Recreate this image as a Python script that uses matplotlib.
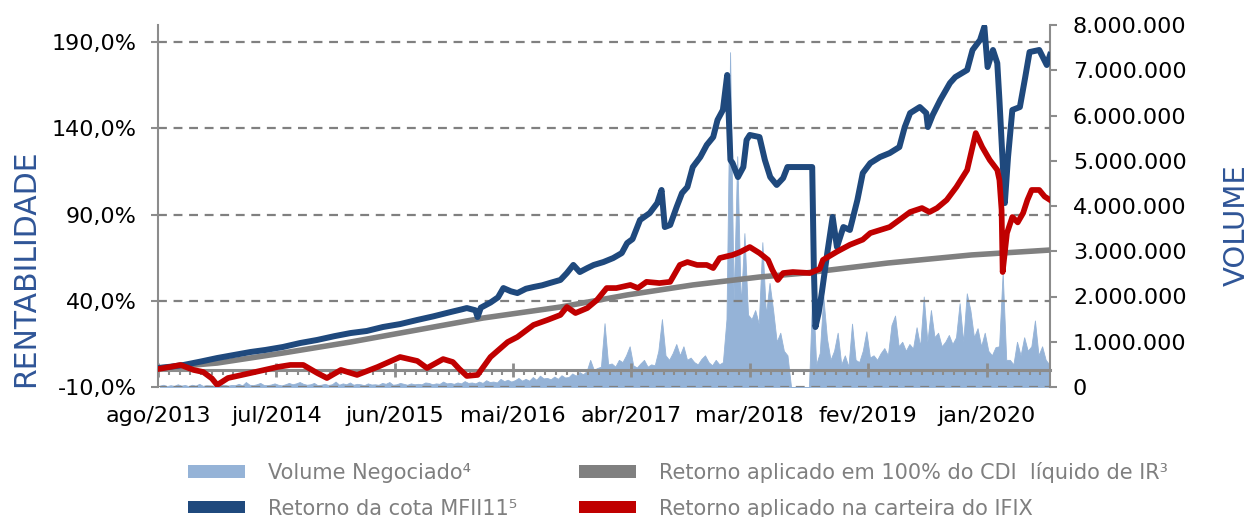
import numpy as np
import matplotlib
matplotlib.use('Agg')
import matplotlib.pyplot as plt
from matplotlib.patches import Patch
from matplotlib.ticker import FixedLocator, FuncFormatter

plt.rcParams['font.family'] = ['DejaVu Sans']

# ---------------- data ----------------
# x = months since ago/2013
tick_labels = ['ago/2013', 'jul/2014', 'jun/2015', 'mai/2016',
               'abr/2017', 'mar/2018', 'fev/2019', 'jan/2020']
tick_months = [0, 11, 22, 33, 44, 55, 66, 77]
n_months = 83

cota_t = [0.0, 1.2, 2.4, 4.0, 5.5, 7.0, 8.6, 10.0, 11.6, 13.2, 14.8, 16.4, 17.9,
          19.4, 20.9, 22.5, 24.1, 25.6, 27.2, 28.2, 28.7, 29.5, 29.7, 30.0, 30.9,
          31.6, 32.1, 32.8, 33.4, 34.2, 34.9, 35.7, 36.4, 37.4, 38.0, 38.6, 39.2,
          39.9, 40.5, 41.4, 42.3, 43.1, 43.6, 44.1, 44.8, 45.7, 46.4, 46.8, 47.1,
          47.6, 48.2, 48.7, 49.2, 49.7, 50.4, 51.0, 51.6, 52.0, 52.5, 52.9, 53.0,
          53.2, 53.4, 53.9, 54.4, 54.7, 55.0, 55.9, 56.4, 56.9, 57.5, 58.1, 58.5,
          60.8, 60.95, 61.1, 61.4, 61.7, 62.2, 62.7, 63.1, 63.7, 64.3, 65.0, 65.5,
          66.2, 67.1, 68.0, 68.9, 69.4, 69.9, 70.8, 71.4, 71.55, 72.0, 72.7, 73.6,
          74.1, 75.2, 75.7, 76.4, 76.8, 77.1, 77.6, 78.0, 78.2, 78.7, 79.0, 79.4,
          80.1, 80.6, 81.0, 81.9, 82.6, 82.9]
cota_v = [1.0, 1.8, 2.8, 4.8, 6.8, 8.5, 10.3, 11.5, 13.2, 15.5, 17.3, 19.5, 21.3,
          22.5, 24.8, 26.5, 28.9, 31.0, 33.5, 35.0, 35.8, 34.5, 30.6, 36.0, 39.0,
          42.0, 47.4, 45.5, 44.5, 47.0, 48.0, 49.0, 50.3, 52.1, 56.1, 60.8, 56.7,
          59.0, 60.8, 62.5, 64.8, 67.7, 73.5, 75.8, 86.9, 90.9, 96.7, 104.3, 82.8,
          84.0, 94.4, 102.5, 106.0, 117.6, 123.4, 130.4, 135.0, 144.9, 150.7, 171.0, 154.7,
          121.7, 119.9, 111.8, 117.6, 133.3, 136.2, 135.0, 121.7, 111.8, 107.2, 111.2, 117.6,
          117.6, 60.0, 24.8, 33.0, 45.0, 67.7, 88.6, 71.2, 82.8, 81.1, 98.5, 114.1,
          119.9, 123.4, 125.7, 129.2, 140.8, 148.9, 152.4, 148.9, 140.8, 147.8, 156.5, 166.3,
          169.8, 173.9, 185.5, 191.3, 199.0, 175.6, 185.5, 177.9, 156.5, 96.7, 123.4, 150.7,
          152.4, 169.8, 184.3, 185.5, 176.8, 182.6]

ifix_t = [0.0, 1.0, 2.1, 3.3, 4.2, 5.0, 5.5, 6.5, 8.6, 11.1, 12.3, 13.5, 14.8,
          15.7, 17.0, 18.5, 20.4, 22.5, 24.1, 25.0, 26.5, 27.4, 28.0, 28.7, 29.7,
          30.9, 32.5, 33.4, 34.9, 36.2, 37.4, 38.0, 38.8, 39.9, 40.8, 41.7, 42.6,
          43.9, 44.6, 45.4, 46.6, 47.6, 48.5, 49.2, 50.1, 51.0, 51.6, 52.2, 53.4,
          54.1, 55.0, 55.9, 56.7, 57.1, 57.6, 58.1, 59.0, 60.6, 61.5, 61.8, 63.1,
          64.3, 65.5, 66.2, 68.0, 68.9, 69.9, 71.0, 71.7, 72.4, 73.3, 74.2, 75.2,
          76.0, 76.6, 77.3, 78.0, 78.2, 78.4, 78.5, 78.9, 79.4, 79.9, 80.4, 80.8,
          81.2, 81.9, 82.4, 82.9]
ifix_v = [0.4, 1.5, 2.8, -0.1, -1.3, -5.0, -8.8, -4.8, -1.9, 1.6, 2.8, 2.8, -1.9,
          -4.8, -0.1, -3.0, 1.6, 7.4, 5.1, 1.0, 6.2, 4.5, 0.5, -3.6, -3.0,
          7.4, 16.1, 19.0, 26.0, 28.9, 31.8, 36.4, 32.9, 35.8, 40.5, 47.4, 47.4,
          49.2, 47.4, 51.0, 50.3, 51.0, 60.8, 62.5, 60.8, 60.8, 59.0, 64.8, 66.6,
          68.3, 71.2, 67.7, 63.7, 57.9, 52.1, 56.1, 56.7, 56.1, 58.5, 63.7, 68.5,
          72.5, 75.5, 79.3, 82.8, 86.9, 91.5, 93.8, 91.5, 93.8, 98.5, 106.0, 115.9,
          137.3, 129.2, 121.7, 115.9, 110.0, 92.7, 56.7, 79.3, 88.6, 85.5, 90.9, 98.5,
          104.3, 104.3, 100.5, 98.5]

cdi_t = [0.0, 5.5, 11.6, 17.9, 24.1, 30.2, 37.4, 43.6, 49.7, 55.9, 60.1, 67.8, 75.6, 83.0]
cdi_v = [1.0, 3.9, 9.7, 16.1, 23.1, 30.0, 36.4, 43.4, 49.2, 53.8, 56.1, 61.9, 66.6, 69.5]

# volume negociado, thousands of units, three readings per month
volume_k = [
    30, 50, 20, 40, 25, 60, 30, 45, 20, 50, 30, 70, 25, 40, 35,            # ago-dez/2013
    30, 60, 40, 50, 30, 45, 40, 70, 35, 110, 50, 40, 60, 90, 45, 40, 55, 80,
    50, 35, 60, 90, 60, 80, 110, 70, 50, 60, 90, 40, 50, 70, 45, 60, 120, 50,  # 2014
    80, 60, 100, 50, 70, 60, 40, 80, 55, 60, 50, 90, 70, 110, 50, 60, 90, 70,
    50, 80, 60, 70, 60, 100, 90, 60, 80, 70, 120, 80, 90, 70, 100, 80, 130, 90,  # 2015
    100, 80, 120, 90, 150, 110, 120, 100, 180, 130, 160, 120, 150, 200, 140,
    180, 140, 220, 160, 250, 190, 200, 170, 230, 180, 260, 210, 220, 300, 250,
    330, 280, 350, 600, 380, 420,                                            # 2016
    450, 1410, 500, 520, 450, 600, 550, 700, 900, 480, 430, 520, 600, 450, 500,
    480, 800, 1500, 700, 600, 750, 950, 700, 900, 600, 650, 550, 500, 620, 700,
    550, 480, 600, 500, 550, 1500,                                           # 2017
    7400, 1900, 5100, 1800, 3400, 1600, 1500, 1700, 1400, 3200, 1600, 2300,
    1700, 1000, 1200, 800, 700, 0, 0, 0, 0, 0, 0, 2300, 500, 750, 2000,
    1080, 600, 800, 1200, 500, 700, 450, 1400, 600,                          # 2018
    550, 800, 1230, 650, 700, 600, 750, 860, 700, 1370, 1580, 900, 1000, 800, 950,
    850, 1320, 900, 2000, 1000, 1700, 1100, 1200, 900, 1000, 1150, 950,
    1100, 1850, 1000, 2070, 1700, 1100, 1300, 900, 1200,                     # 2019
    800, 700, 880, 900, 2530, 600, 600, 500, 1000, 700, 1100, 800,
    900, 1470, 700, 900, 600, 500,                                           # 2020
]

legend_labels = ['Volume Negociado\u2074', 'Retorno da cota MFII11\u2075',
                 'Retorno aplicado em 100% do CDI  l\u00edquido de IR\u00b3',
                 'Retorno aplicado na carteira do IFIX']

# ---------------- styles ----------------
c_vol = '#95B3D7'
c_cota = '#1F497D'
c_cdi = '#808080'
c_ifix = '#C00000'
c_axis = '#8C8C8C'
c_title = '#2F5597'

fig = plt.figure(figsize=(12.51, 5.17), dpi=100)
ax = fig.add_axes([158 / 1251, 130 / 517, 892 / 1251, 362 / 517])
axv = ax.twinx()
ax.set_zorder(axv.get_zorder() + 1)
ax.patch.set_visible(False)

# volume
vol = np.array(volume_k) * 1000.0
vt = (np.arange(len(vol)) + 0.5) / 3.0
axv.fill_between(vt, 0, vol, color=c_vol, linewidth=0.6, edgecolor=c_vol)
axv.set_ylim(0, 8e6)
axv.set_xlim(0, 82.9)

# returns
ax.plot(cdi_t, cdi_v, color=c_cdi, lw=4.0, solid_capstyle='butt', zorder=3)
ax.plot(cota_t, cota_v, color=c_cota, lw=4.3, solid_joinstyle='round', zorder=4)
ax.plot(ifix_t, ifix_v, color=c_ifix, lw=4.1, solid_joinstyle='round', zorder=5)
ax.set_ylim(-10, 200)
ax.set_xlim(0, 82.9)

# grid
for g in [-10, 40, 90, 140, 190]:
    ax.axhline(g, color='#808080', lw=1.6, ls=(0, (4, 3)), zorder=1)

# spines
for s in ['top', 'right']:
    ax.spines[s].set_visible(False)
ax.spines['left'].set_color(c_axis)
ax.spines['left'].set_linewidth(1.5)
ax.spines['bottom'].set_position(('data', 0))
ax.spines['bottom'].set_color(c_axis)
ax.spines['bottom'].set_linewidth(2.2)
ax.spines['bottom'].set_zorder(2)
for s in ['top', 'left', 'bottom']:
    axv.spines[s].set_visible(False)
axv.spines['right'].set_color(c_axis)
axv.spines['right'].set_linewidth(1.5)

# ticks
ax.set_yticks([-10, 40, 90, 140, 190])
ax.yaxis.set_major_formatter(FuncFormatter(lambda v, p: f"{v:.1f}".replace('.', ',') + '%'))
ax.tick_params(axis='y', length=5, width=1.5, color=c_axis, pad=10.5,
               labelsize=16, labelcolor='black')
ax.xaxis.set_major_locator(FixedLocator(tick_months))
ax.set_xticklabels(tick_labels)
ax.xaxis.set_minor_locator(FixedLocator(list(range(0, n_months))))
ax.tick_params(axis='x', which='major', direction='inout', length=10, width=2,
               color=c_axis, pad=21, labelsize=16, labelcolor='black')
ax.tick_params(axis='x', which='minor', direction='out', length=3.6, width=1.5,
               color=c_axis)

axv.set_yticks(np.arange(0, 8e6 + 1, 1e6))
axv.yaxis.set_major_formatter(FuncFormatter(lambda v, p: f"{int(v):,}".replace(',', '.')))
axv.tick_params(axis='y', length=5, width=1.5, color=c_axis, pad=11.5,
                labelsize=16, labelcolor='black')

# axis titles
fig.text(26 / 1251, 1 - 268 / 517, 'RENTABILIDADE', rotation=90, ha='center',
         va='center', fontsize=21.5, color=c_title)
fig.text(1237 / 1251, 1 - 225 / 517, 'VOLUME', rotation=90, ha='center',
         va='center', fontsize=21, color=c_title)

# legend
handles = [Patch(facecolor=c_vol, edgecolor='none'),
           Patch(facecolor=c_cota, edgecolor='none'),
           Patch(facecolor=c_cdi, edgecolor='none'),
           Patch(facecolor=c_ifix, edgecolor='none')]
fig.legend(handles, legend_labels, ncol=2, loc='upper left',
           bbox_to_anchor=(188 / 1251, 1 - 462 / 517), frameon=False,
           fontsize=15, labelcolor='#7F7F7F', handlelength=2.74,
           handleheight=0.53, handletextpad=1.1, columnspacing=2.95,
           labelspacing=0.75, borderpad=0, borderaxespad=0)

fig.savefig('out.png', dpi=100)
